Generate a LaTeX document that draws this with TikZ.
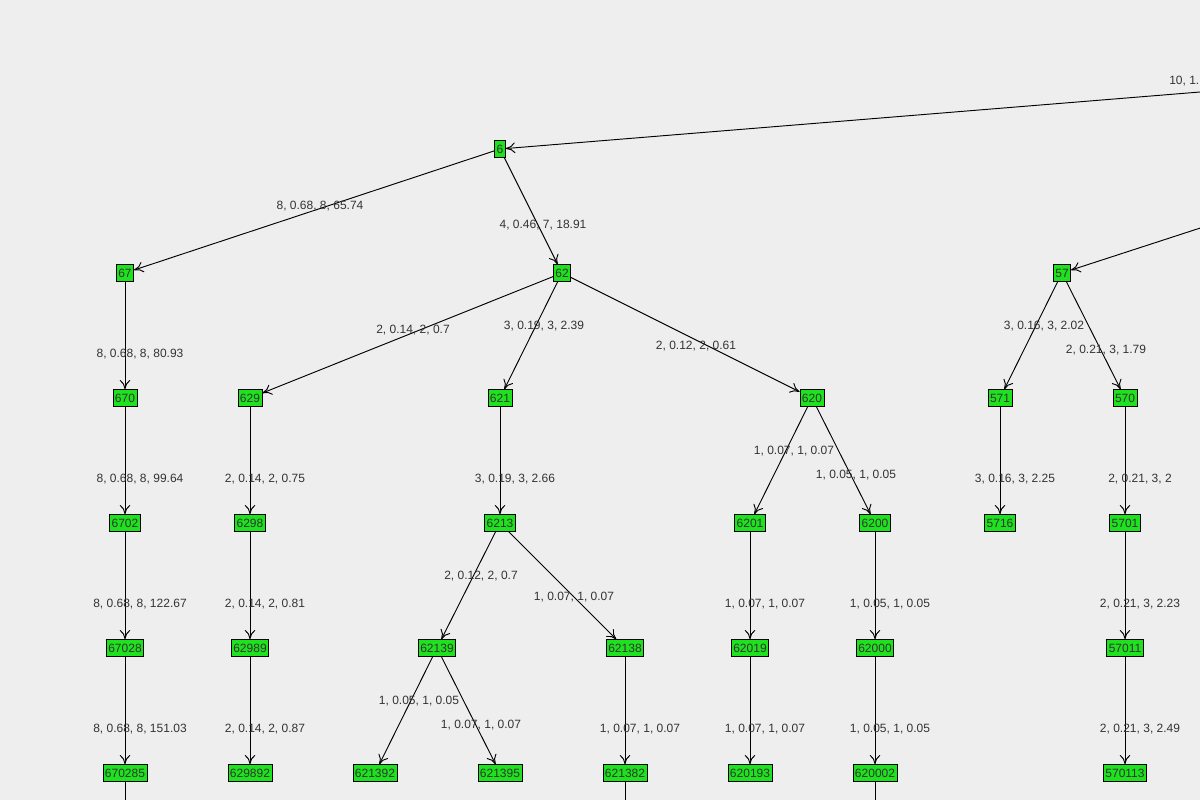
\documentclass[tikz,border=0pt]{standalone}
\usepackage{fontspec}
\setmainfont{Liberation Sans}
\usetikzlibrary{arrows.meta}
\definecolor{bgray}{HTML}{EEEEEE}
\definecolor{vgreen}{HTML}{1EE21E}
\definecolor{ltext}{HTML}{333333}
\tikzset{
  vertex/.style={draw=black, fill=vgreen, text=ltext, inner sep=1.5pt, minimum height=12.5pt, line width=0.6pt, font=\fontsize{9}{10}\selectfont},
  lbl/.style={text=ltext, inner sep=0pt, font=\fontsize{9}{10}\selectfont},
  link/.style={-{To[length=7pt,width=8pt]}, line width=0.7pt}
}
\newcommand{\link}[4]{\draw[link] (#1) -- (#2); \node[lbl] at (#3) {#4};}
\begin{document}
\begin{tikzpicture}[x=0.75pt, y=-0.75pt]
\fill[bgray] (0,0) rectangle (1200,800);
\useasboundingbox (0,0) rectangle (1200,800);
\clip (0,0) rectangle (1200,800);

% off-canvas parents
\coordinate (r) at (1900,35);
\coordinate (5) at (1480,137);

\node[vertex] (6) at (500,149) {6};
\node[vertex] (67) at (125,273) {67};
\node[vertex] (62) at (562,273) {62};
\node[vertex] (57) at (1062,273) {57};

\node[vertex] (670) at (125,398) {670};
\node[vertex] (629) at (250,398) {629};
\node[vertex] (621) at (500,398) {621};
\node[vertex] (620) at (812,398) {620};
\node[vertex] (571) at (1000,398) {571};
\node[vertex] (570) at (1125,398) {570};

\node[vertex] (6702) at (125,523) {6702};
\node[vertex] (6298) at (250,523) {6298};
\node[vertex] (6213) at (500,523) {6213};
\node[vertex] (6201) at (750,523) {6201};
\node[vertex] (6200) at (875,523) {6200};
\node[vertex] (5716) at (1000,523) {5716};
\node[vertex] (5701) at (1125,523) {5701};

\node[vertex] (67028) at (125,648) {67028};
\node[vertex] (62989) at (250,648) {62989};
\node[vertex] (62139) at (437,648) {62139};
\node[vertex] (62138) at (625,648) {62138};
\node[vertex] (62019) at (750,648) {62019};
\node[vertex] (62000) at (875,648) {62000};
\node[vertex] (57011) at (1125,648) {57011};

\node[vertex] (670285) at (125,773) {670285};
\node[vertex] (629892) at (250,773) {629892};
\node[vertex] (621392) at (375,773) {621392};
\node[vertex] (621395) at (500,773) {621395};
\node[vertex] (621382) at (625,773) {621382};
\node[vertex] (620193) at (750,773) {620193};
\node[vertex] (620002) at (875,773) {620002};
\node[vertex] (570113) at (1125,773) {570113};

% edges
\draw[link] (r) -- (6);
\node[lbl, anchor=west] at (1169,81) {10, 1.};
\draw[link] (5) -- (57);
\link{6}{67}{320,206}{8, 0.68, 8, 65.74}
\link{6}{62}{543,225}{4, 0.46, 7, 18.91}
\link{67}{670}{140,354}{8, 0.68, 8, 80.93}
\link{62}{629}{413,330}{2, 0.14, 2, 0.7}
\link{62}{621}{544,326}{3, 0.19, 3, 2.39}
\link{62}{620}{696,346}{2, 0.12, 2, 0.61}
\link{57}{571}{1044,326}{3, 0.16, 3, 2.02}
\link{57}{570}{1106,350}{2, 0.21, 3, 1.79}
\link{670}{6702}{140,479}{8, 0.68, 8, 99.64}
\link{629}{6298}{265,479}{2, 0.14, 2, 0.75}
\link{621}{6213}{515,479}{3, 0.19, 3, 2.66}
\link{620}{6201}{794,451}{1, 0.07, 1, 0.07}
\link{620}{6200}{856,475}{1, 0.05, 1, 0.05}
\link{571}{5716}{1015,479}{3, 0.16, 3, 2.25}
\link{570}{5701}{1140,479}{2, 0.21, 3, 2}
\link{6702}{67028}{140,604}{8, 0.68, 8, 122.67}
\link{6298}{62989}{265,604}{2, 0.14, 2, 0.81}
\link{6213}{62139}{481,576}{2, 0.12, 2, 0.7}
\link{6213}{62138}{574,597}{1, 0.07, 1, 0.07}
\link{6201}{62019}{765,604}{1, 0.07, 1, 0.07}
\link{6200}{62000}{890,604}{1, 0.05, 1, 0.05}
\link{5701}{57011}{1140,604}{2, 0.21, 3, 2.23}
\link{67028}{670285}{140,729}{8, 0.68, 8, 151.03}
\link{62989}{629892}{265,729}{2, 0.14, 2, 0.87}
\link{62139}{621392}{419,701}{1, 0.05, 1, 0.05}
\link{62139}{621395}{481,725}{1, 0.07, 1, 0.07}
\link{62138}{621382}{640,729}{1, 0.07, 1, 0.07}
\link{62019}{620193}{765,729}{1, 0.07, 1, 0.07}
\link{62000}{620002}{890,729}{1, 0.05, 1, 0.05}
\link{57011}{570113}{1140,729}{2, 0.21, 3, 2.49}

% edges leaving the bottom
\coordinate (b1) at (125,900);
\coordinate (b2) at (625,900);
\coordinate (b3) at (875,900);
\draw[line width=0.7pt] (670285) -- (b1);
\draw[line width=0.7pt] (621382) -- (b2);
\draw[line width=0.7pt] (620002) -- (b3);
\end{tikzpicture}
\end{document}
